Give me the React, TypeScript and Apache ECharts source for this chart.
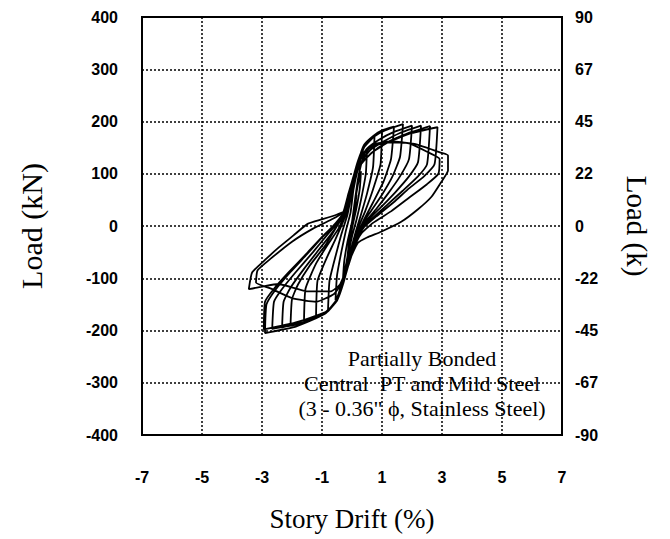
import React, { useEffect, useRef } from "react";
import * as echarts from "echarts";

// Story drift (%) vs. lateral load (kN), one array per loading cycle
const cycle1: [number, number][] = [
  [0, 0], [0.08, 35], [0.15, 60], [0.1, 35], [0, 5], [-0.08, -30], [-0.15, -58], [-0.1, -32], [0, 0],
];
const cycle2: [number, number][] = [
  [0.1, 45], [0.2, 80], [0.3, 105], [0.26, 72], [0.15, 35], [0, -5], [-0.1, -40], [-0.2, -75],
  [-0.3, -100], [-0.26, -68], [-0.15, -30], [0, 8],
];
const cycle3: [number, number][] = [
  [0.1, 50], [0.2, 90], [0.35, 128], [0.5, 148], [0.46, 100], [0.3, 50], [0.15, 12], [0, -20],
  [-0.15, -60], [-0.3, -100], [-0.45, -130], [-0.55, -142], [-0.5, -95], [-0.35, -48], [-0.2, -8], [-0.05, 25],
];
const cycle4: [number, number][] = [
  [0.05, 70], [0.2, 110], [0.4, 150], [0.75, 172], [0.7, 112], [0.5, 62], [0.3, 22], [0.12, -12],
  [-0.05, -48], [-0.2, -85], [-0.35, -118], [-0.5, -140], [-0.8, -162], [-0.75, -105], [-0.55, -58],
  [-0.35, -15], [-0.15, 22],
];
const cycle5: [number, number][] = [
  [0, 65], [0.2, 118], [0.4, 152], [0.7, 170], [1.0, 182], [0.95, 118], [0.7, 70], [0.45, 30],
  [0.2, -5], [0.05, -35], [-0.1, -62], [-0.25, -95], [-0.4, -128], [-0.6, -150], [-0.9, -166],
  [-1.2, -175], [-1.15, -105], [-0.85, -62], [-0.55, -25], [-0.3, 8], [-0.15, 32],
];
const cycle6: [number, number][] = [
  [0, 75], [0.2, 122], [0.4, 155], [0.7, 172], [1.0, 183], [1.4, 190], [1.3, 128], [1.05, 85],
  [0.7, 45], [0.4, 12], [0.15, -20], [0, -45], [-0.15, -75], [-0.3, -110], [-0.5, -140], [-0.8, -162],
  [-1.2, -175], [-1.6, -182], [-1.55, -120], [-1.2, -72], [-0.8, -35], [-0.45, -5], [-0.25, 22],
];
const cycle7: [number, number][] = [
  [-0.1, 60], [0.05, 95], [0.2, 125], [0.4, 152], [0.7, 170], [1.1, 183], [1.7, 195], [1.6, 132],
  [1.35, 95], [1.0, 60], [0.6, 26], [0.3, 0], [0.1, -25], [-0.05, -55], [-0.2, -85], [-0.35, -118],
  [-0.5, -142], [-0.8, -163], [-1.3, -178], [-2.05, -190], [-2.0, -140], [-1.8, -112], [-1.4, -75],
  [-0.9, -38], [-0.5, 0], [-0.25, 25],
];
const cycle8: [number, number][] = [
  [-0.1, 62], [0.05, 95], [0.25, 125], [0.5, 148], [0.9, 165], [1.4, 180], [2.0, 192], [1.9, 128],
  [1.6, 95], [1.2, 62], [0.8, 32], [0.4, 5], [0.15, -22], [0, -50], [-0.2, -88], [-0.35, -120],
  [-0.55, -146], [-0.9, -166], [-1.5, -182], [-2.33, -194], [-2.28, -145], [-2.05, -118], [-1.6, -82],
  [-1.1, -45], [-0.6, -8], [-0.3, 20],
];
const cycle9: [number, number][] = [
  [-0.12, 60], [0.05, 92], [0.3, 122], [0.6, 145], [1.0, 160], [1.6, 178], [2.3, 192], [2.2, 122],
  [1.9, 95], [1.45, 65], [1.0, 38], [0.55, 12], [0.25, -12], [0.05, -42], [-0.15, -80], [-0.35, -118],
  [-0.55, -147], [-1.0, -170], [-1.8, -188], [-2.66, -197], [-2.6, -145], [-2.35, -122], [-1.9, -90],
  [-1.3, -50], [-0.8, -15], [-0.35, 15],
];
const cycle10: [number, number][] = [
  [-0.15, 55], [0.05, 90], [0.3, 118], [0.65, 140], [1.1, 158], [1.8, 176], [2.6, 191], [2.5, 118],
  [2.2, 95], [1.7, 68], [1.2, 42], [0.7, 16], [0.3, -8], [0.08, -35], [-0.12, -75], [-0.32, -115],
  [-0.5, -143], [-0.9, -165], [-1.9, -185], [-2.94, -198], [-2.9, -145], [-2.6, -120], [-2.1, -88],
  [-1.5, -52], [-0.95, -18], [-0.45, 10], [-0.25, 28],
];
const cycle11: [number, number][] = [
  [-0.12, 58], [0.05, 92], [0.35, 122], [0.7, 142], [1.2, 160], [2.0, 178], [2.85, 189], [2.75, 118],
  [2.4, 95], [1.9, 72], [1.4, 46], [0.8, 18], [0.4, -2], [0.12, -28], [-0.08, -65], [-0.28, -108],
  [-0.48, -140], [-0.9, -168], [-1.85, -192], [-2.9, -205], [-2.85, -150], [-2.55, -122], [-2.05, -88],
  [-1.5, -54], [-1.0, -22], [-0.55, 5], [-0.28, 26],
];
const cycle12: [number, number][] = [
  [-0.12, 60], [0.05, 95], [0.3, 130], [0.6, 150], [1.2, 160], [1.9, 158], [2.5, 142], [2.92, 128],
  [2.88, 100], [2.5, 80], [1.9, 54], [1.3, 28], [0.7, 6], [0.3, -15], [0.08, -40], [-0.1, -72],
  [-0.3, -105], [-0.6, -130], [-1.2, -145], [-2.0, -138], [-2.7, -120], [-3.2, -108], [-3.15, -85],
  [-2.7, -62], [-2.0, -30], [-1.3, -5], [-0.7, 12], [-0.3, 26],
];
const cycle13: [number, number][] = [
  [-0.12, 62], [0.08, 100], [0.35, 138], [0.7, 156], [1.3, 162], [2.08, 157], [2.98, 140], [3.2, 135],
  [3.2, 106], [2.95, 82], [2.65, 56], [2.2, 32], [1.64, 8], [0.97, -11], [0.5, -22], [0.2, -32],
  [0, -55], [-0.2, -85], [-0.4, -112], [-0.7, -125], [-1.5, -125], [-2.45, -111], [-3.0, -116],
  [-3.44, -121], [-3.33, -89], [-2.9, -65], [-2.44, -41], [-1.95, -18], [-1.48, 4], [-0.98, 13],
  [-0.5, 22], [-0.2, 29],
];

const cycles = [
  cycle1, cycle2, cycle3, cycle4, cycle5, cycle6, cycle7,
  cycle8, cycle9, cycle10, cycle11, cycle12, cycle13,
];

// Axis ticks
const driftTicks = [-7, -5, -3, -1, 1, 3, 5, 7];
const driftGridLines = [-5, -3, -1, 1, 3, 5];
const kipTickLabels = ["-90", "-67", "-45", "-22", "0", "22", "45", "67", "90"];

const noteLines = [
  "Partially Bonded",
  "Central  PT and Mild Steel",
  "(3 - 0.36\" \u03D5, Stainless Steel)",
];

const sans = "Liberation Sans, Arial, sans-serif";
const serif = "Liberation Serif, Times New Roman, serif";

export default function App() {
  const ref = useRef<HTMLDivElement>(null);

  useEffect(() => {
    document.body.style.margin = "0";
    const chart = echarts.init(ref.current!, null, { renderer: "svg" });
    const dotted = { color: "#000", width: 1.5, type: [2, 2] as number[] };
    const tickFont = { fontFamily: sans, fontSize: 16, fontWeight: "bold" as const, color: "#000" };

    chart.setOption({
      animation: false,
      backgroundColor: "#fff",
      grid: {
        left: 142,
        right: 108,
        top: 17,
        bottom: 104,
        show: true,
        borderColor: "#000",
        borderWidth: 2,
        backgroundColor: "transparent",
      },
      xAxis: {
        type: "value",
        min: -7,
        max: 7,
        interval: 1,
        name: "Story Drift (%)",
        nameLocation: "middle",
        nameGap: 70,
        nameTextStyle: { fontFamily: serif, fontSize: 27, color: "#000" },
        axisLine: { show: false },
        axisTick: { show: false },
        splitLine: { show: false },
        axisLabel: {
          margin: 34,
          ...tickFont,
          formatter: (v: number) => (driftTicks.includes(v) ? String(v) : ""),
        },
      },
      yAxis: [
        {
          type: "value",
          min: -400,
          max: 400,
          interval: 100,
          name: "Load (kN)",
          nameLocation: "middle",
          nameGap: 96,
          nameRotate: 90,
          nameTextStyle: { fontFamily: serif, fontSize: 30, color: "#000" },
          axisLine: { show: false },
          axisTick: { show: false },
          splitLine: { show: true, lineStyle: dotted },
          axisLabel: { margin: 24, ...tickFont },
        },
        {
          type: "value",
          position: "right",
          min: -400,
          max: 400,
          interval: 100,
          name: "Load (k)",
          nameLocation: "middle",
          nameGap: 60,
          nameRotate: -90,
          nameTextStyle: { fontFamily: serif, fontSize: 29, color: "#000" },
          axisLine: { show: false },
          axisTick: { show: false },
          splitLine: { show: false },
          axisLabel: {
            margin: 13,
            ...tickFont,
            formatter: (v: number) => kipTickLabels[Math.round((v + 400) / 100)] ?? "",
          },
        },
      ],
      series: [
        {
          type: "line",
          data: cycles.flat(),
          showSymbol: false,
          smooth: 0.15,
          lineStyle: { color: "#000", width: 1.8 },
          markLine: {
            silent: true,
            symbol: "none",
            label: { show: false },
            lineStyle: dotted,
            data: driftGridLines.map((x) => ({ xAxis: x })),
          },
        },
      ],
      graphic: noteLines.map((t, i) => ({
        type: "text",
        x: 422,
        y: 358 + i * 25,
        style: {
          text: t,
          fontFamily: serif,
          fontSize: 22,
          fill: "#000",
          textAlign: "center",
          textVerticalAlign: "middle",
        },
      })),
    });
    return () => chart.dispose();
  }, []);

  return <div ref={ref} style={{ width: 670, height: 539 }} />;
}
